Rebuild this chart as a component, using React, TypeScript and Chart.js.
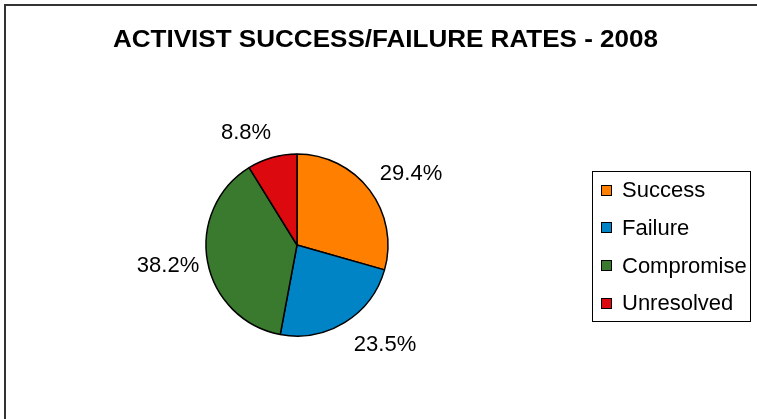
import React, { useEffect, useRef } from "react";
import { Chart, registerables } from "chart.js";

Chart.register(...registerables);

// ---- data ----
const categories = ["Success", "Failure", "Compromise", "Unresolved"];
const counts = [10, 8, 13, 3];
const sliceColors = ["#FF8000", "#0084C6", "#3A7A2E", "#DC0A0E"];
const chartTitle = "ACTIVIST SUCCESS/FAILURE RATES - 2008";

// ---- layout (text placement only) ----
const LABEL_CENTERS: [number, number][] = [
  [411, 174],
  [385, 345],
  [168, 266],
  [246, 133],
];
const FONT = "'Liberation Sans', Arial, sans-serif";

const overlayPlugin = {
  id: "overlay",
  afterDraw(chart: any) {
    const ctx = chart.ctx as CanvasRenderingContext2D;
    const ds = chart.data.datasets[0];
    const values = ds.data as number[];
    const total = values.reduce((a, b) => a + b, 0);
    ctx.save();
    // frame (top & left)
    ctx.fillStyle = "#333333";
    ctx.fillRect(4, 4, 753, 2);
    ctx.fillRect(4, 4, 2, 415);

    // title (slightly condensed height, full width)
    ctx.fillStyle = "#000";
    ctx.font = `bold 24px ${FONT}`;
    ctx.textAlign = "center";
    ctx.textBaseline = "alphabetic";
    const w = ctx.measureText(chartTitle).width;
    const sx = 545 / w;
    ctx.save();
    ctx.translate(385.5, 46.5);
    ctx.scale(sx, 1);
    ctx.fillText(chartTitle, 0, 0);
    ctx.restore();

    // percent labels
    ctx.font = `22px ${FONT}`;
    ctx.textBaseline = "middle";
    values.forEach((v, i) => {
      const txt = ((v / total) * 100).toFixed(1) + "%";
      const [x, y] = LABEL_CENTERS[i];
      ctx.fillText(txt, x, y);
    });

    // legend
    ctx.lineWidth = 1;
    ctx.strokeStyle = "#000";
    ctx.strokeRect(592.5, 171.5, 158, 150);
    ctx.textAlign = "left";
    const rowY0 = 190;
    const rowGap = 37.8;
    chart.data.labels.forEach((lab: string, i: number) => {
      const cy = rowY0 + i * rowGap;
      ctx.fillStyle = (ds.backgroundColor as string[])[i];
      ctx.fillRect(601, Math.round(cy - 5.5), 11, 11);
      ctx.strokeRect(601.5, Math.round(cy - 5.5) + 0.5, 10, 10);
      ctx.fillStyle = "#000";
      ctx.fillText(lab, 622, cy + 1);
    });
    ctx.restore();
  },
};

export default function App() {
  const canvasRef = useRef<HTMLCanvasElement | null>(null);

  useEffect(() => {
    const prevMargin = document.body.style.margin;
    document.body.style.margin = "0";
    const canvas = canvasRef.current!;
    const chart = new Chart(canvas, {
      type: "pie",
      data: {
        labels: categories,
        datasets: [
          {
            data: counts,
            backgroundColor: sliceColors,
            borderColor: "#000000",
            borderWidth: 1.5,
            radius: 91,
          } as any,
        ],
      },
      options: {
        animation: false,
        responsive: false,
        maintainAspectRatio: false,
        layout: { padding: { left: 100, right: 263, top: 100, bottom: 29 } },
        plugins: {
          legend: { display: false },
          title: { display: false },
          tooltip: { enabled: false },
        },
      },
      plugins: [overlayPlugin],
    });
    return () => {
      chart.destroy();
      document.body.style.margin = prevMargin;
    };
  }, []);

  return (
    <div style={{ position: "fixed", left: 0, top: 0, width: 757, height: 419, background: "#fff" }}>
      <canvas ref={canvasRef} width={757} height={419} style={{ display: "block", width: 757, height: 419 }} />
    </div>
  );
}
